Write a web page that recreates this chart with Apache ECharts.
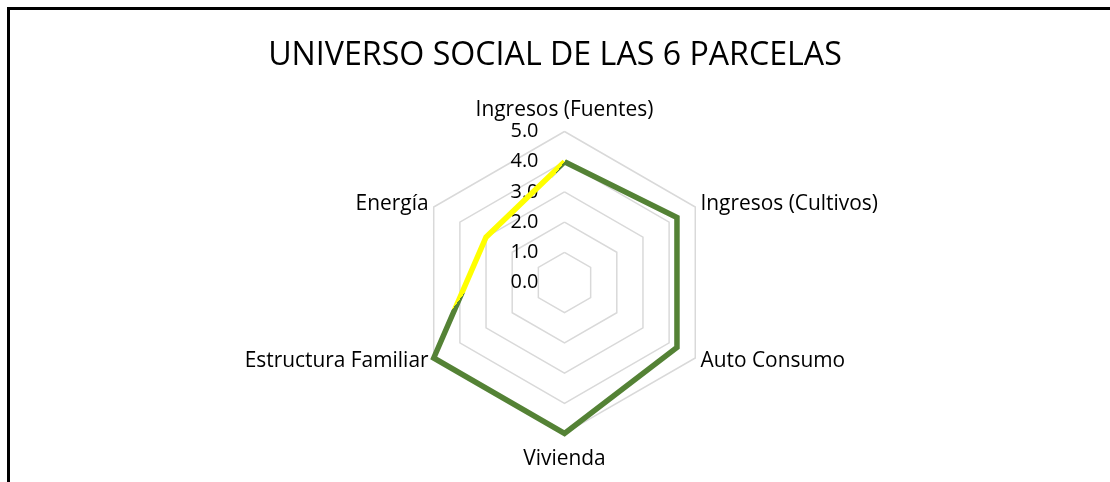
<!DOCTYPE html>
<html><head><meta charset="utf-8">
<script src="https://cdn.jsdelivr.net/npm/echarts@6/dist/echarts.min.js"></script>
<style>
html,body{margin:0;padding:0;background:#fff;}
#wrap{position:relative;width:1110px;height:482px;overflow:hidden;background:#fff;}
#frame{position:absolute;left:7px;top:7px;width:1300px;height:700px;border-left:3px solid #000;border-top:3px solid #000;box-sizing:border-box;}
#chart{position:absolute;left:0;top:0;width:1110px;height:482px;}
</style></head><body>
<div id="wrap"><div id="frame"></div><div id="chart"></div></div>
<script>
// ---- data ----
const chartTitle = 'UNIVERSO SOCIAL DE LAS 6 PARCELAS';
const categories = ['Ingresos (Fuentes)', 'Ingresos (Cultivos)', 'Auto Consumo', 'Vivienda', 'Estructura Familiar', 'Energía'];
const values = [4.0, 4.3, 4.3, 5.0, 5.0, 3.0];
const axisMin = 0;
const axisMax = 5;
const axisStep = 1;

// ---- style ----
const FAMILY = 'Open Sans';
function fitSize(text, width) {
  const c = document.createElement('canvas').getContext('2d');
  c.font = '100px "' + FAMILY + '"';
  return 100 * width / c.measureText(text).width;
}
const titleSize = fitSize(chartTitle, 574);
const nameSize = fitSize('Estructura Familiar', 184);
const tickSize = fitSize('5.0', 28);

const CX = 564.5, CY = 282.5, R = 151;
const LW = 5.5;
const GREEN = '#548235', YELLOW = '#FFFF00';

// Excel draws clockwise from top; ECharts radar goes counter-clockwise.
const n = categories.length;
const order = [0];
for (let i = n - 1; i >= 1; i--) order.push(i);

// Gradient: yellow on the upper-left part of the outline, green elsewhere.
function buildGradient() {
  const pts = values.map((v, i) => {
    const a = i * 2 * Math.PI / n;
    return [v * Math.sin(a), -v * Math.cos(a)];
  });
  const pad = (LW / 2) / (R / axisMax);
  const xs = pts.map(p => p[0]), ys = pts.map(p => p[1]);
  const x0 = Math.min(...xs) - pad, x1 = Math.max(...xs) + pad;
  const y0 = Math.min(...ys) - pad, y1 = Math.max(...ys) + pad;
  const w = x1 - x0, h = y1 - y0;
  const A = pts[0];
  const t = 0.47;
  const P4 = pts[4], P5 = pts[5];
  const B = [P4[0] + t * (P5[0] - P4[0]), P4[1] + t * (P5[1] - P4[1])];
  let nx = -(B[1] - A[1]), ny = (B[0] - A[0]);
  const C = pts[1];
  if ((C[0] - A[0]) * nx + (C[1] - A[1]) * ny < 0) { nx = -nx; ny = -ny; }
  const len = Math.hypot(nx, ny); nx /= len; ny /= len;
  const M = [(A[0] + B[0]) / 2, (A[1] + B[1]) / 2];
  const s = 0.2;
  const g0 = [M[0] - s * nx, M[1] - s * ny], g1 = [M[0] + s * nx, M[1] + s * ny];
  return new echarts.graphic.LinearGradient(
    (g0[0] - x0) / w, (g0[1] - y0) / h, (g1[0] - x0) / w, (g1[1] - y0) / h,
    [{offset: 0, color: YELLOW}, {offset: 0.5, color: YELLOW}, {offset: 0.5, color: GREEN}, {offset: 1, color: GREEN}]
  );
}

const indicator = order.map((idx, k) => {
  const ind = {name: categories[idx], min: axisMin, max: axisMax};
  const ang = k * 360 / n;
  ind.nameGap = ang === 0 ? 11 : (ang === 180 ? 15 : 6);
  ind.axisLabel = {show: k === 0};
  return ind;
});

const chart = echarts.init(document.getElementById('chart'), null, {renderer: 'canvas'});
chart.setOption({
  animation: false,
  backgroundColor: 'transparent',
  title: {
    text: chartTitle,
    left: 'center',
    top: 40,
    padding: 0,
    textStyle: {fontFamily: FAMILY, fontSize: titleSize, fontWeight: 'normal', color: '#000'}
  },
  radar: {
    center: [CX, CY],
    radius: R,
    startAngle: 90,
    splitNumber: (axisMax - axisMin) / axisStep,
    shape: 'polygon',
    indicator: indicator,
    axisName: {color: '#000', fontFamily: FAMILY, fontSize: nameSize},
    axisLine: {show: false},
    axisTick: {show: false},
    splitArea: {show: false},
    splitLine: {lineStyle: {color: '#d9d9d9', width: 1.5}},
    axisLabel: {
      show: false,
      color: '#000',
      fontFamily: FAMILY,
      fontSize: tickSize,
      margin: 26,
      formatter: v => Number(v).toFixed(1)
    }
  },
  series: [{
    type: 'radar',
    symbol: 'none',
    data: [{value: order.map(i => values[i]), name: 'Universo'}],
    lineStyle: {color: buildGradient(), width: LW, join: 'miter', opacity: 1},
    areaStyle: null
  }]
});
</script>
</body></html>
